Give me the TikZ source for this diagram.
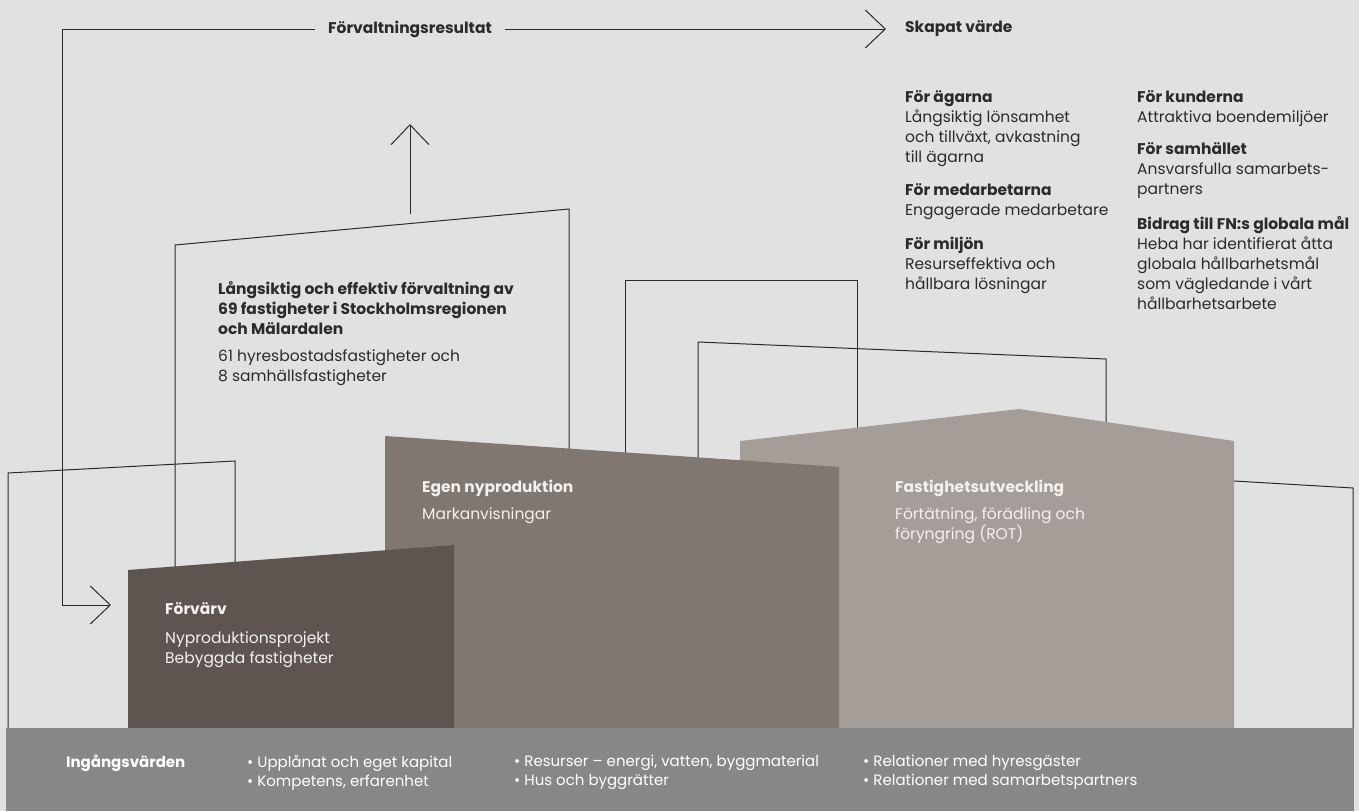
\documentclass[tikz,border=0pt]{standalone}
\usepackage{fontspec}
\setmainfont{Poppins}
\usepackage{xcolor}
\usepackage{tikz}
\usetikzlibrary{arrows.meta,positioning}

\definecolor{bgcol}{HTML}{E1E1E1}
\definecolor{bandcol}{HTML}{878787}
\definecolor{darkcol}{HTML}{5E5550}
\definecolor{midcol}{HTML}{807770}
\definecolor{lightcol}{HTML}{A59E98}
\definecolor{inkcol}{HTML}{2B2B2B}
\definecolor{paper}{HTML}{F3F1EF}

\begin{document}
\begin{tikzpicture}[
    x=1pt, y=-1pt,
    link/.style={draw=inkcol, line width=1pt},
    arr/.style={link, -{Straight Barb[length=20pt, width=38pt]}},
    headtxt/.style={font=\fontsize{15.5}{20}\selectfont\bfseries, text=inkcol},
    txt/.style={font=\fontsize{15.5}{20}\selectfont, text=inkcol, align=left, inner sep=0pt, anchor=north west},
    ontxt/.style={txt, text=paper},
    bandtxt/.style={font=\fontsize{15}{19}\selectfont, text=white, align=left, inner sep=0pt, anchor=north west}
]
    \fill[bgcol] (0,0) rectangle (1359,811);
    \useasboundingbox (0,0) rectangle (1359,811);

    % outlines behind the buildings
    \draw[link] (8,728) -- (8,473) -- (235,461) -- (235,728);
    \draw[link] (175,728) -- (175,245) -- (569,209) -- (569,728);
    \draw[link] (625,728) -- (625,280) -- (857,280) -- (857,728);
    \draw[link] (698,728) -- (698,342) -- (1106,359) -- (1106,728);
    \draw[link] (1200,479) -- (1353,488) -- (1353,728);

    % buildings
    \fill[lightcol] (740,728) -- (740,441) -- (1019,409) -- (1234,441) -- (1234,728) -- cycle;
    \fill[midcol] (385,728) -- (385,436) -- (839,467) -- (839,728) -- cycle;
    \fill[darkcol] (128,728) -- (128,570) -- (454,545) -- (454,728) -- cycle;
    \fill[bandcol] (6,728) rectangle (1354,811);

    % result flow
    \node[headtxt, inner xsep=13pt] (resultat) at (410,29) {Förvaltningsresultat};
    \node[headtxt, anchor=west, inner sep=0pt] (skapat) at (905,29) {Skapat värde};
    \coordinate (corner) at (62,605);
    \coordinate (intake) at (111,605);
    \coordinate (roof) at (410,214);
    \coordinate (up) at (410,124);
    \draw[arr] (resultat.east) -- ([xshift=-19pt]skapat.west);
    \draw[arr] (resultat.west) -| (corner) -- (intake);
    \draw[arr] (roof) -- (up);

    \node[txt] (forvaltning) at (218,281) {\textbf{Långsiktig och effektiv förvaltning av}\\\textbf{69 fastigheter i Stockholmsregionen}\\\textbf{och Mälardalen}\\[7pt]61 hyresbostadsfastigheter och\\8 samhällsfastigheter};

    \node[ontxt] (forvarv) at (165,602) {\textbf{Förvärv}\\[9pt]Nyproduktionsprojekt\\Bebyggda fastigheter};
    \node[ontxt] (egen) at (422,480) {\textbf{Egen nyproduktion}\\[7pt]Markanvisningar};
    \node[ontxt] (fastighet) at (895,480) {\textbf{Fastighetsutveckling}\\[7pt]Förtätning, förädling och\\föryngring (ROT)};

    % created value
    \node[txt] (owners) at (905,90) {\textbf{För ägarna}\\Långsiktig lönsamhet\\och tillväxt, avkastning\\till ägarna};
    \node[txt] (staff) at (905,183) {\textbf{För medarbetarna}\\Engagerade medarbetare};
    \node[txt] (nature) at (905,237) {\textbf{För miljön}\\Resurseffektiva och\\hållbara lösningar};
    \node[txt] (customers) at (1137,90) {\textbf{För kunderna}\\Attraktiva boendemiljöer};
    \node[txt] (society) at (1137,142) {\textbf{För samhället}\\Ansvarsfulla samarbets-\\partners};
    \node[txt] (goals) at (1137,216) {\textbf{Bidrag till FN:s globala mål}\\Heba har identifierat åtta\\globala hållbarhetsmål\\som vägledande i vårt\\hållbarhetsarbete};

    % input values
    \node[bandtxt, font=\fontsize{15}{19}\selectfont\bfseries] (inputs) at (66,755) {Ingångsvärden};
    \node[bandtxt] (capital) at (247,755) {• Upplånat och eget kapital\\• Kompetens, erfarenhet};
    \node[bandtxt] (resources) at (514,755) {• Resurser – energi, vatten, byggmaterial\\• Hus och byggrätter};
    \node[bandtxt] (relations) at (863,755) {• Relationer med hyresgäster\\• Relationer med samarbetspartners};
\end{tikzpicture}
\end{document}
